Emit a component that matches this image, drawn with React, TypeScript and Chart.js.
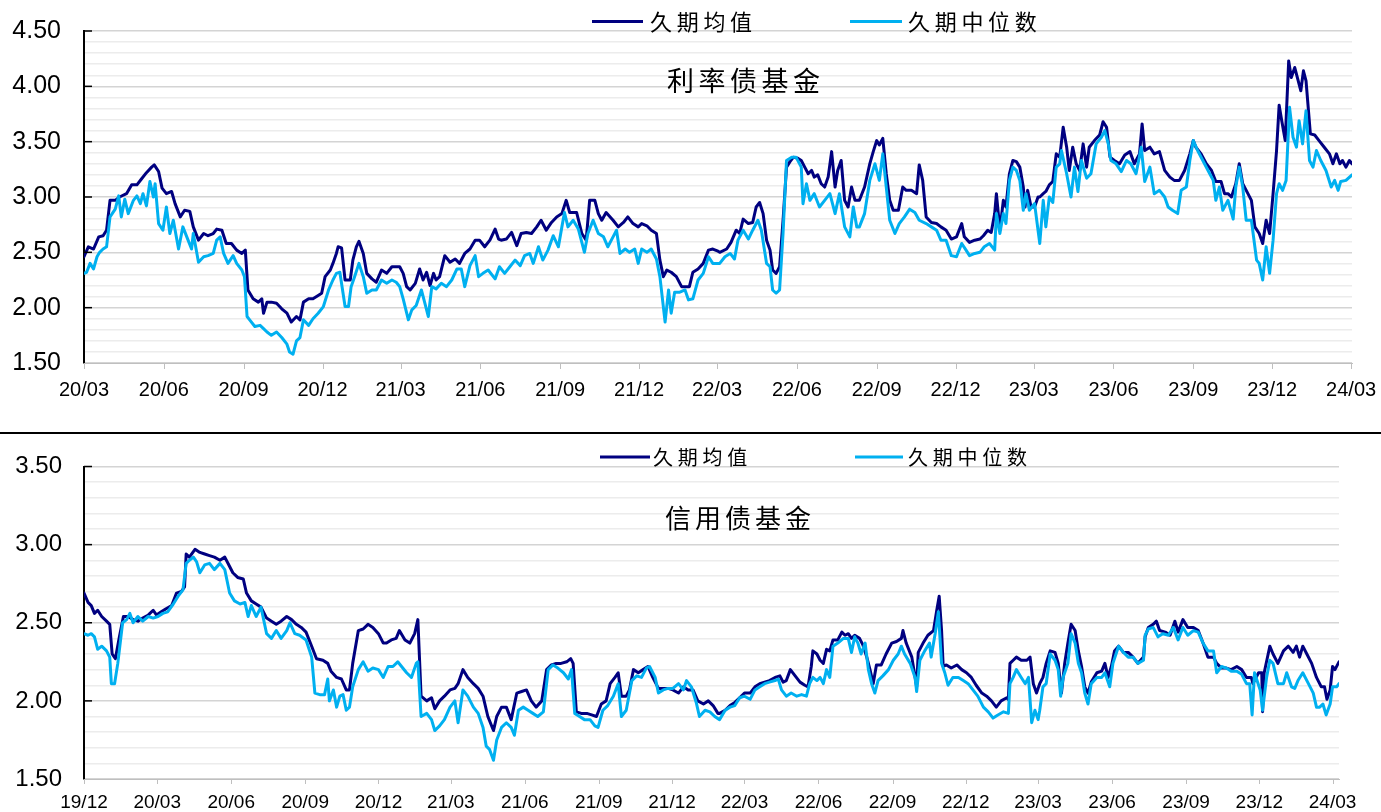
import React, { useEffect, useRef } from "react";
import { Chart, registerables } from "chart.js";

Chart.register(...registerables);

// ---------- DATA ----------
// Top panel (利率债基金): x = days since 2020-03-01
const topTickLabels = ["20/03", "20/06", "20/09", "20/12", "21/03", "21/06", "21/09", "21/12", "22/03", "22/06", "22/09", "22/12", "23/03", "23/06", "23/09", "23/12", "24/03"];
const topMean: number[][] = [
  [0,2.46],[5,2.55],[11,2.53],[17,2.64],[22,2.65],[26,2.70],[30,2.97],[36,2.97],[41,3.00],[49,3.03],[55,3.11],[61,3.11],[66,3.16],[72,3.22],[78,3.27],[81,3.29],[86,3.23],[90,3.08],[95,3.03],[101,3.05],[105,2.94],[111,2.82],[116,2.88],[122,2.87],[126,2.73],[132,2.61],[138,2.67],[143,2.65],[149,2.67],[153,2.71],[159,2.70],[164,2.58],[170,2.58],[176,2.52],[182,2.49],[186,2.52],[189,2.16],[195,2.08],[201,2.05],[205,2.08],[207,1.95],[211,2.05],[216,2.05],[222,2.04],[228,1.99],[234,1.95],[239,1.87],[245,1.92],[249,1.89],[253,2.05],[259,2.08],[264,2.08],[270,2.11],[274,2.13],[278,2.28],[284,2.34],[287,2.40],[291,2.49],[293,2.55],[297,2.54],[301,2.25],[307,2.25],[310,2.43],[314,2.55],[317,2.60],[322,2.49],[326,2.31],[332,2.26],[337,2.23],[343,2.34],[349,2.31],[355,2.37],[360,2.37],
  [364,2.37],[368,2.31],[372,2.19],[376,2.16],[382,2.22],[387,2.35],[391,2.25],[395,2.32],[399,2.20],[403,2.31],[406,2.25],[410,2.28],[416,2.47],[422,2.41],[428,2.44],[433,2.40],[439,2.49],[445,2.53],[451,2.61],[456,2.61],[462,2.55],[468,2.61],[474,2.71],[478,2.62],[481,2.61],[487,2.62],[493,2.68],[499,2.56],[504,2.67],[510,2.68],[516,2.67],[522,2.73],[527,2.79],[533,2.70],[539,2.77],[545,2.82],[551,2.85],[556,2.97],[560,2.86],[568,2.86],[574,2.67],[579,2.61],[583,2.97],[589,2.97],[593,2.85],[597,2.79],[602,2.86],[610,2.79],[616,2.73],[622,2.77],[627,2.82],[633,2.76],[639,2.73],[643,2.76],[649,2.74],[654,2.70],[660,2.67],[664,2.43],[668,2.28],[672,2.34],[677,2.32],[683,2.28],[689,2.19],[695,2.19],[698,2.19],[702,2.32],[708,2.35],[714,2.40],[720,2.52],[725,2.53],[731,2.51],
  [733,2.50],[741,2.53],[746,2.59],[752,2.70],[756,2.67],[760,2.80],[766,2.76],[771,2.77],[775,2.91],[779,2.95],[783,2.85],[787,2.61],[791,2.52],[794,2.34],[798,2.31],[802,2.37],[806,2.79],[810,3.27],[814,3.32],[818,3.36],[823,3.35],[827,3.33],[831,3.27],[835,3.21],[839,3.24],[842,3.18],[846,3.20],[850,3.12],[854,3.09],[858,3.18],[862,3.41],[866,3.09],[869,3.24],[873,3.33],[877,2.97],[881,2.91],[885,3.09],[889,2.97],[894,2.97],[900,3.09],[906,3.30],[910,3.41],[914,3.51],[917,3.47],[921,3.53],[925,3.21],[929,2.97],[933,2.88],[939,2.88],[944,3.09],[948,3.06],[954,3.06],[960,3.03],[963,3.29],[967,3.15],[971,2.82],[977,2.77],[983,2.76],[988,2.73],[994,2.70],[1000,2.62],[1006,2.64],[1012,2.76],[1015,2.64],[1021,2.59],[1027,2.61],[1033,2.62],[1037,2.65],[1042,2.70],[1046,2.68],[1050,2.85],[1052,3.03],[1056,2.70],[1060,2.97],[1063,2.91],[1067,3.21],[1071,3.33],[1075,3.32],[1079,3.27],[1083,3.09],[1085,2.91],[1088,3.06],[1092,2.91],[1096,2.91],[1100,3.00],
  [1102,3.00],[1106,3.03],[1109,3.05],[1113,3.11],[1117,3.14],[1121,3.39],[1125,3.36],[1129,3.63],[1133,3.45],[1136,3.24],[1140,3.45],[1144,3.30],[1148,3.24],[1152,3.48],[1156,3.27],[1159,3.45],[1165,3.51],[1171,3.56],[1175,3.68],[1179,3.63],[1183,3.36],[1188,3.33],[1194,3.30],[1200,3.38],[1206,3.41],[1211,3.30],[1217,3.39],[1220,3.66],[1223,3.42],[1229,3.45],[1234,3.39],[1240,3.41],[1246,3.24],[1252,3.18],[1257,3.15],[1263,3.15],[1269,3.24],[1275,3.39],[1279,3.51],[1282,3.45],[1288,3.39],[1294,3.30],[1300,3.24],[1305,3.14],[1311,3.14],[1315,3.03],[1319,3.03],[1323,3.00],[1328,3.12],[1332,3.30],[1336,3.12],[1342,3.03],[1346,2.97],[1350,2.73],[1355,2.67],[1359,2.58],[1363,2.79],[1367,2.67],[1371,3.03],[1375,3.42],[1378,3.83],[1381,3.69],[1385,3.51],[1389,4.23],[1392,4.08],[1396,4.17],[1400,4.05],[1403,3.96],[1406,4.14],[1409,4.05],[1414,3.57],[1419,3.56],[1424,3.51],[1430,3.45],[1436,3.39],[1440,3.30],[1444,3.39],[1448,3.30],[1451,3.33],[1455,3.27],[1459,3.33],[1462,3.30],
];
const topMedian: number[][] = [
  [0,2.31],[3,2.32],[7,2.40],[11,2.35],[15,2.46],[18,2.50],[22,2.53],[26,2.55],[30,2.82],[36,2.89],[40,3.01],[43,2.82],[47,2.98],[51,2.85],[57,2.97],[61,3.01],[65,2.94],[68,3.03],[72,2.92],[76,3.14],[80,3.00],[82,3.12],[86,2.76],[91,2.70],[95,2.91],[99,2.67],[103,2.79],[109,2.53],[114,2.73],[120,2.61],[124,2.53],[126,2.67],[132,2.41],[138,2.46],[143,2.47],[149,2.49],[153,2.61],[157,2.64],[161,2.49],[166,2.40],[172,2.47],[176,2.40],[182,2.34],[185,2.28],[188,1.92],[191,1.89],[197,1.83],[203,1.84],[207,1.81],[211,1.78],[216,1.75],[222,1.78],[228,1.73],[234,1.67],[237,1.60],[241,1.58],[245,1.70],[249,1.73],[253,1.89],[259,1.84],[264,1.90],[270,1.95],[276,2.01],[282,2.16],[287,2.25],[291,2.31],[295,2.32],[301,2.01],[305,2.01],[308,2.19],[312,2.28],[317,2.40],[322,2.28],[326,2.13],[332,2.16],[337,2.16],[343,2.25],[349,2.22],[355,2.25],[360,2.23],
  [364,2.19],[368,2.08],[374,1.89],[378,1.98],[383,2.02],[389,2.16],[393,2.04],[397,1.92],[401,2.19],[406,2.17],[412,2.22],[418,2.19],[424,2.25],[430,2.35],[435,2.35],[439,2.19],[445,2.38],[451,2.47],[455,2.28],[460,2.31],[466,2.34],[474,2.26],[479,2.37],[485,2.31],[491,2.37],[497,2.43],[503,2.38],[508,2.47],[514,2.49],[518,2.40],[524,2.55],[529,2.43],[535,2.52],[541,2.65],[547,2.55],[551,2.73],[554,2.86],[558,2.73],[564,2.79],[570,2.71],[577,2.50],[581,2.67],[587,2.79],[593,2.67],[599,2.64],[604,2.55],[610,2.64],[614,2.70],[618,2.49],[624,2.53],[629,2.50],[635,2.53],[639,2.40],[643,2.53],[649,2.50],[654,2.53],[660,2.44],[664,2.28],[670,1.87],[674,2.16],[677,1.95],[681,2.14],[687,2.14],[693,2.16],[697,2.07],[702,2.08],[708,2.25],[714,2.31],[720,2.46],[725,2.40],[731,2.40],
  [733,2.40],[739,2.46],[745,2.49],[750,2.44],[754,2.61],[760,2.70],[766,2.62],[771,2.70],[777,2.79],[781,2.70],[787,2.40],[791,2.37],[794,2.16],[798,2.13],[802,2.16],[806,2.67],[810,3.33],[816,3.36],[821,3.36],[827,3.27],[829,2.94],[833,3.12],[837,2.97],[842,3.03],[848,2.91],[854,2.97],[860,3.03],[866,2.85],[871,3.03],[877,2.73],[883,2.64],[887,2.91],[891,2.73],[894,2.73],[900,2.85],[906,3.15],[912,3.30],[917,3.15],[921,3.39],[925,3.09],[929,2.79],[935,2.67],[940,2.76],[946,2.82],[952,2.89],[958,2.86],[963,2.79],[971,2.76],[977,2.73],[983,2.70],[988,2.61],[994,2.61],[1000,2.47],[1006,2.46],[1012,2.58],[1017,2.52],[1021,2.47],[1027,2.49],[1033,2.50],[1038,2.55],[1044,2.58],[1050,2.52],[1052,2.85],[1056,2.67],[1060,2.85],[1063,2.76],[1067,3.15],[1071,3.27],[1075,3.24],[1079,3.15],[1083,2.88],[1086,3.03],[1090,2.88],[1096,2.94],[1100,2.70],
  [1102,2.58],[1106,2.97],[1109,2.73],[1113,3.00],[1117,2.95],[1121,3.27],[1125,3.30],[1127,3.42],[1133,3.21],[1138,3.00],[1142,3.27],[1146,3.05],[1150,3.33],[1156,3.17],[1161,3.21],[1167,3.48],[1173,3.54],[1177,3.60],[1181,3.48],[1184,3.33],[1190,3.30],[1196,3.23],[1202,3.33],[1207,3.30],[1213,3.21],[1219,3.45],[1223,3.14],[1229,3.27],[1234,3.03],[1240,3.06],[1246,3.00],[1250,2.91],[1255,2.88],[1261,2.85],[1265,3.06],[1271,3.09],[1275,3.33],[1279,3.51],[1284,3.42],[1290,3.33],[1296,3.24],[1302,3.15],[1305,2.97],[1309,3.09],[1313,2.88],[1319,2.97],[1325,2.80],[1328,3.09],[1332,3.27],[1336,3.09],[1340,2.79],[1346,2.79],[1352,2.43],[1355,2.40],[1359,2.25],[1363,2.55],[1367,2.31],[1371,2.61],[1375,3.03],[1378,3.12],[1382,3.06],[1386,3.15],[1390,3.81],[1394,3.54],[1398,3.45],[1401,3.69],[1405,3.48],[1409,3.78],[1413,3.33],[1417,3.27],[1421,3.42],[1426,3.33],[1432,3.24],[1438,3.09],[1442,3.15],[1446,3.06],[1449,3.14],[1455,3.15],[1462,3.20],
];

// Bottom panel (信用债基金): x = days since 2019-12-01
const bottomTickLabels = ["19/12", "20/03", "20/06", "20/09", "20/12", "21/03", "21/06", "21/09", "21/12", "22/03", "22/06", "22/09", "22/12", "23/03", "23/06", "23/09", "23/12", "24/03"];
const bottomMean: number[][] = [
  [0,2.69],[5,2.63],[9,2.61],[13,2.56],[17,2.58],[22,2.54],[28,2.51],[32,2.49],[35,2.30],[39,2.27],[44,2.41],[49,2.54],[55,2.54],[61,2.52],[67,2.51],[73,2.53],[80,2.55],[86,2.58],[90,2.55],[96,2.57],[102,2.59],[109,2.61],[115,2.69],[121,2.70],[125,2.73],[127,2.94],[131,2.92],[138,2.97],[144,2.95],[150,2.94],[156,2.93],[162,2.92],[169,2.90],[175,2.92],[181,2.86],[185,2.82],[191,2.79],[198,2.78],[202,2.69],[208,2.64],[214,2.62],[220,2.60],[227,2.53],[233,2.51],[239,2.49],[245,2.51],[252,2.54],[258,2.52],[264,2.49],[270,2.47],[276,2.44],[283,2.35],[289,2.27],[297,2.26],[303,2.24],[307,2.19],[314,2.15],[320,2.14],[326,2.07],[330,2.07],[334,2.24],[341,2.45],[347,2.46],[353,2.49],[359,2.47],[366,2.43],[372,2.37],[376,2.37],[382,2.39],[388,2.40],
  [392,2.45],[399,2.39],[405,2.37],[411,2.43],[415,2.52],[419,2.03],[426,2.00],[432,2.02],[436,1.95],[442,2.00],[448,2.03],[455,2.07],[461,2.08],[465,2.11],[471,2.20],[477,2.15],[484,2.11],[490,2.08],[496,2.03],[502,1.90],[509,1.81],[513,1.90],[519,1.96],[525,1.96],[531,1.88],[538,2.05],[544,2.06],[550,2.07],[556,2.00],[562,1.96],[569,2.00],[575,2.20],[581,2.23],[587,2.24],[593,2.24],[600,2.25],[605,2.27],[608,2.24],[612,1.93],[618,1.92],[625,1.92],[631,1.91],[637,1.90],[643,1.98],[649,2.00],[654,2.11],[660,2.15],[664,2.18],[668,2.03],[674,2.03],[678,2.07],[683,2.20],[689,2.18],[695,2.20],[701,2.22],[707,2.15],[714,2.08],[720,2.08],[726,2.08],[732,2.07],[739,2.05],[745,2.09],[751,2.07],[757,2.07],[763,2.00],[770,1.98],[776,2.00],[782,1.97],[788,1.92],
  [790,1.92],[797,1.94],[803,1.97],[809,1.99],[815,2.02],[821,2.05],[828,2.05],[834,2.09],[840,2.11],[846,2.12],[852,2.13],[859,2.15],[865,2.16],[869,2.12],[873,2.13],[878,2.20],[884,2.16],[890,2.12],[896,2.10],[900,2.09],[904,2.22],[906,2.32],[911,2.30],[915,2.26],[919,2.24],[923,2.33],[927,2.32],[931,2.39],[937,2.39],[942,2.44],[946,2.42],[950,2.43],[954,2.40],[958,2.42],[964,2.40],[968,2.36],[973,2.28],[977,2.20],[981,2.11],[985,2.23],[991,2.23],[997,2.30],[1004,2.37],[1010,2.38],[1016,2.40],[1018,2.45],[1022,2.37],[1029,2.28],[1035,2.09],[1037,2.31],[1043,2.37],[1049,2.42],[1056,2.45],[1060,2.58],[1063,2.67],[1066,2.45],[1068,2.22],[1072,2.23],[1078,2.21],[1085,2.23],[1091,2.20],[1097,2.18],[1103,2.15],[1109,2.10],[1116,2.05],[1122,2.03],[1128,2.00],[1134,1.96],[1140,2.00],[1147,2.02],[1149,2.01],[1151,2.24],[1155,2.26],[1159,2.28],[1165,2.26],[1172,2.26],[1176,2.28],[1180,2.11],[1184,2.05],
  [1188,2.11],[1192,2.15],[1196,2.24],[1201,2.32],[1207,2.31],[1211,2.24],[1215,2.05],[1219,2.24],[1223,2.37],[1227,2.49],[1232,2.45],[1236,2.32],[1240,2.22],[1244,2.09],[1248,2.05],[1252,2.12],[1259,2.18],[1265,2.19],[1269,2.24],[1273,2.15],[1277,2.22],[1281,2.32],[1286,2.35],[1292,2.31],[1298,2.31],[1304,2.28],[1310,2.24],[1317,2.28],[1319,2.41],[1323,2.47],[1329,2.49],[1333,2.51],[1337,2.45],[1344,2.44],[1350,2.42],[1356,2.51],[1360,2.44],[1366,2.52],[1372,2.47],[1379,2.47],[1385,2.45],[1391,2.37],[1397,2.28],[1404,2.28],[1408,2.24],[1414,2.21],[1420,2.21],[1426,2.20],[1433,2.22],[1439,2.20],[1445,2.15],[1451,2.15],[1453,2.11],[1460,2.18],[1464,2.18],[1465,1.93],[1467,2.18],[1474,2.35],[1478,2.30],[1484,2.24],[1491,2.32],[1497,2.35],[1503,2.31],[1507,2.35],[1511,2.28],[1515,2.35],[1520,2.30],[1526,2.24],[1532,2.15],[1538,2.09],[1542,2.09],[1545,2.01],[1549,2.07],[1552,2.22],[1555,2.20],[1560,2.25],
];
const bottomMedian: number[][] = [
  [0,2.43],[5,2.42],[9,2.43],[13,2.41],[17,2.33],[22,2.35],[28,2.32],[32,2.28],[34,2.11],[38,2.11],[42,2.24],[48,2.50],[53,2.52],[57,2.56],[61,2.50],[67,2.54],[73,2.51],[80,2.54],[86,2.53],[92,2.54],[98,2.56],[104,2.57],[111,2.62],[117,2.67],[123,2.71],[127,2.88],[131,2.90],[136,2.92],[140,2.89],[144,2.82],[150,2.87],[156,2.88],[162,2.84],[169,2.88],[175,2.84],[181,2.69],[187,2.64],[194,2.62],[200,2.63],[204,2.54],[208,2.61],[214,2.54],[220,2.60],[227,2.43],[233,2.40],[239,2.45],[245,2.40],[252,2.45],[256,2.50],[262,2.43],[268,2.42],[276,2.39],[283,2.28],[287,2.05],[293,2.04],[299,2.04],[303,2.14],[305,2.00],[310,2.07],[314,1.96],[318,2.03],[322,2.04],[326,1.94],[330,1.96],[334,2.09],[341,2.20],[347,2.25],[353,2.19],[359,2.21],[366,2.20],[372,2.15],[378,2.22],[384,2.22],[390,2.25],
  [401,2.18],[407,2.15],[413,2.24],[415,2.25],[419,1.90],[426,1.92],[432,1.88],[436,1.81],[442,1.84],[448,1.88],[455,1.96],[461,2.00],[465,1.86],[471,2.07],[477,2.03],[484,1.96],[490,1.92],[496,1.83],[500,1.71],[504,1.69],[509,1.62],[513,1.75],[519,1.83],[525,1.86],[531,1.83],[535,1.78],[540,1.94],[546,1.96],[552,1.94],[558,1.92],[564,1.90],[571,1.93],[577,2.20],[583,2.23],[589,2.21],[596,2.18],[602,2.14],[606,2.20],[610,1.92],[616,1.90],[622,1.88],[629,1.88],[635,1.84],[639,1.83],[645,1.94],[651,1.97],[658,2.03],[664,2.11],[668,1.90],[674,1.94],[681,2.13],[687,2.16],[693,2.15],[699,2.21],[703,2.22],[710,2.15],[714,2.05],[720,2.07],[726,2.08],[732,2.08],[739,2.11],[745,2.07],[749,2.13],[755,2.09],[761,1.99],[765,1.90],[772,1.94],[778,1.93],[784,1.90],
  [790,1.88],[797,1.94],[803,1.96],[809,1.97],[815,2.02],[821,2.03],[828,2.01],[834,2.07],[840,2.09],[846,2.11],[852,2.12],[859,2.13],[863,2.14],[867,2.07],[873,2.03],[879,2.05],[886,2.03],[892,2.04],[898,2.03],[902,2.11],[906,2.15],[911,2.13],[915,2.15],[919,2.11],[923,2.20],[927,2.15],[931,2.35],[937,2.37],[944,2.40],[950,2.40],[954,2.31],[958,2.41],[962,2.37],[966,2.30],[971,2.37],[975,2.20],[979,2.11],[983,2.05],[987,2.13],[993,2.16],[1000,2.20],[1006,2.26],[1012,2.30],[1016,2.35],[1020,2.30],[1027,2.24],[1033,2.15],[1035,2.06],[1039,2.26],[1045,2.32],[1051,2.37],[1053,2.28],[1058,2.43],[1062,2.57],[1066,2.24],[1070,2.18],[1074,2.10],[1080,2.15],[1087,2.15],[1093,2.13],[1099,2.11],[1105,2.07],[1111,2.03],[1118,1.96],[1124,1.93],[1130,1.89],[1136,1.91],[1143,1.93],[1149,1.92],[1151,2.11],[1155,2.15],[1159,2.20],[1165,2.15],[1170,2.11],[1174,2.15],[1178,1.86],[1182,1.94],[1186,1.88],
  [1188,1.94],[1192,2.09],[1196,2.11],[1201,2.30],[1207,2.26],[1211,2.20],[1214,2.03],[1217,2.15],[1223,2.24],[1227,2.43],[1232,2.37],[1236,2.24],[1240,2.18],[1244,2.05],[1248,1.98],[1252,2.11],[1259,2.15],[1265,2.15],[1269,2.18],[1275,2.09],[1279,2.24],[1286,2.35],[1292,2.31],[1298,2.28],[1304,2.28],[1310,2.24],[1317,2.26],[1319,2.42],[1323,2.46],[1329,2.47],[1335,2.41],[1341,2.43],[1348,2.42],[1354,2.47],[1360,2.39],[1366,2.47],[1372,2.42],[1379,2.45],[1385,2.44],[1391,2.37],[1397,2.32],[1404,2.32],[1408,2.18],[1414,2.22],[1420,2.21],[1426,2.19],[1433,2.19],[1439,2.17],[1445,2.11],[1449,2.11],[1452,1.91],[1455,2.18],[1462,2.07],[1465,1.94],[1470,2.15],[1474,2.26],[1478,2.24],[1484,2.11],[1491,2.11],[1495,2.18],[1501,2.09],[1505,2.08],[1509,2.13],[1515,2.18],[1522,2.11],[1528,2.05],[1532,1.96],[1536,1.96],[1540,1.98],[1544,1.91],[1549,1.98],[1552,2.09],[1557,2.09],[1560,2.11],
];

const seriesNames = ["久期均值", "久期中位数"];
const topTitle = "利率债基金";
const bottomTitle = "信用债基金";

// ---------- STYLE ----------
const MEAN_COLOR = "#000080";
const MEDIAN_COLOR = "#00B0F0";
const DAY_MS = 86400000;
const CJK_FONT = '"Noto Sans CJK SC", "Noto Sans CJK JP", sans-serif';
const NUM_FONT = '"Liberation Sans", Arial, sans-serif';

function labelToDay(label: string, startMs: number) {
  const [yy, mm] = label.split("/").map(Number);
  return Math.round((Date.UTC(2000 + yy, mm - 1, 1) - startMs) / DAY_MS);
}

const isMajor = (v: number) => Math.abs(v * 2 - Math.round(v * 2)) < 1e-6;

type PanelProps = {
  top: number;
  height: number;
  startMs: number;
  tickLabels: string[];
  mean: number[][];
  median: number[][];
  title: string;
  maxDay: number;
  yMin: number;
  yMax: number;
  padTop: number;
  padRight: number;
  xHeight: number;
  xTickPad: number;
  xTickLen: number;
  xFont: number;
  yFont: number;
  yTickPad: number;
  legendY: number;
  legendFont: number;
  legendPitch: number;
  legendItems: { x1: number; x2: number; tx: number }[];
  titleX: number;
  titleY: number;
  titleFont: number;
  titlePitch: number;
};

function drawSpaced(ctx: CanvasRenderingContext2D, text: string, x: number, y: number, pitch: number) {
  Array.from(text).forEach((ch, i) => ctx.fillText(ch, x + i * pitch, y));
}

function Panel(p: PanelProps) {
  const ref = useRef<HTMLCanvasElement | null>(null);
  useEffect(() => {
    if (!ref.current) return;
    const tickDays = p.tickLabels.map((l) => labelToDay(l, p.startMs));
    const yTicks: number[] = [];
    for (let i = 0; i <= Math.round((p.yMax - p.yMin) * 10); i++) {
      yTicks.push(Math.round((p.yMin + i * 0.1) * 10) / 10);
    }
    const textPlugin = {
      id: "panelText",
      afterDraw(chart: any) {
        const ctx = chart.ctx as CanvasRenderingContext2D;
        const ys = chart.scales.y;
        const xs = chart.scales.x;
        const area = chart.chartArea;
        ctx.save();
        // x-axis tick marks (grey, below the axis)
        ctx.strokeStyle = "#bfbfbf";
        ctx.lineWidth = 1;
        tickDays.forEach((d) => {
          const x = Math.round(xs.getPixelForValue(d)) + 0.5;
          ctx.beginPath();
          ctx.moveTo(x, area.bottom);
          ctx.lineTo(x, area.bottom + p.xTickLen);
          ctx.stroke();
        });
        // y-axis major tick marks (black, inside)
        ctx.strokeStyle = "#000";
        ctx.lineWidth = 1.5;
        yTicks.filter((v) => isMajor(v) && v > p.yMin + 1e-6).forEach((v) => {
          const y = ys.getPixelForValue(v);
          ctx.beginPath();
          ctx.moveTo(area.left, y);
          ctx.lineTo(area.left + 8, y);
          ctx.stroke();
        });
        // legend
        const colors = [MEAN_COLOR, MEDIAN_COLOR];
        p.legendItems.forEach((it, i) => {
          ctx.strokeStyle = colors[i];
          ctx.lineWidth = 3;
          ctx.beginPath();
          ctx.moveTo(it.x1, p.legendY);
          ctx.lineTo(it.x2, p.legendY);
          ctx.stroke();
          ctx.fillStyle = "#000";
          ctx.font = `${p.legendFont}px ${CJK_FONT}`;
          ctx.textBaseline = "middle";
          ctx.textAlign = "left";
          drawSpaced(ctx, seriesNames[i], it.tx, p.legendY, p.legendPitch);
        });
        // panel title
        ctx.fillStyle = "#000";
        ctx.font = `${p.titleFont}px ${CJK_FONT}`;
        ctx.textBaseline = "middle";
        ctx.textAlign = "left";
        drawSpaced(ctx, p.title, p.titleX, p.titleY, p.titlePitch);
        ctx.restore();
      },
    };
    const common = {
      borderWidth: 3,
      pointRadius: 0,
      pointHoverRadius: 0,
      tension: 0,
      borderJoinStyle: "round" as const,
      borderCapStyle: "round" as const,
      fill: false,
    };
    const chart = new Chart(ref.current, {
      type: "line",
      data: {
        datasets: [
          {
            ...common,
            label: seriesNames[1],
            data: p.median.map(([x, y]) => ({ x, y })),
            borderColor: MEDIAN_COLOR,
            backgroundColor: MEDIAN_COLOR,
            order: 0,
          },
          {
            ...common,
            label: seriesNames[0],
            data: p.mean.map(([x, y]) => ({ x, y })),
            borderColor: MEAN_COLOR,
            backgroundColor: MEAN_COLOR,
            order: 1,
          },
        ],
      },
      options: {
        animation: false,
        responsive: false,
        maintainAspectRatio: false,
        events: [],
        layout: { padding: { left: 0, right: p.padRight, top: p.padTop, bottom: 0 } },
        plugins: { legend: { display: false }, tooltip: { enabled: false }, title: { display: false } },
        scales: {
          x: {
            type: "linear",
            min: 0,
            max: p.maxDay,
            afterBuildTicks: (s: any) => {
              s.ticks = tickDays.map((v) => ({ value: v }));
            },
            afterFit: (s: any) => {
              s.height = p.xHeight;
            },
            ticks: {
              autoSkip: false,
              maxRotation: 0,
              minRotation: 0,
              padding: 0,
              color: "#000",
              font: { family: NUM_FONT, size: p.xFont },
              callback: (v: any) => {
                const i = tickDays.indexOf(Number(v));
                return i >= 0 ? p.tickLabels[i] : "";
              },
            },
            grid: {
              drawOnChartArea: false,
              drawTicks: true,
              tickLength: p.xTickLen + p.xTickPad,
              tickColor: "rgba(0,0,0,0)",
              color: "rgba(0,0,0,0)",
            },
            border: { display: true, color: "#bfbfbf", width: 1 },
          },
          y: {
            type: "linear",
            min: p.yMin,
            max: p.yMax,
            afterBuildTicks: (s: any) => {
              s.ticks = yTicks.map((v) => ({ value: v }));
            },
            afterFit: (s: any) => {
              s.width = 84;
            },
            ticks: {
              autoSkip: false,
              padding: 0,
              color: "#000",
              font: { family: NUM_FONT, size: p.yFont },
              callback: (v: any) => (isMajor(Number(v)) ? Number(v).toFixed(2) : ""),
            },
            grid: {
              drawTicks: true,
              tickLength: p.yTickPad,
              tickColor: "rgba(0,0,0,0)",
              color: (c: any) => (isMajor(c.tick.value) ? "#d4d4d4" : "#ececec"),
              lineWidth: 1.5,
            },
            border: { display: true, color: "#000", width: 2 },
          },
        },
      },
      plugins: [textPlugin],
    } as any);
    return () => chart.destroy();
  }, []);
  return (
    <canvas
      ref={ref}
      width={1381}
      height={p.height}
      style={{ position: "absolute", left: 0, top: p.top, width: 1381, height: p.height }}
    />
  );
}

export default function App() {
  return (
    <div style={{ position: "fixed", left: 0, top: 0, width: 1381, height: 812, background: "#fff", overflow: "hidden" }}>
      <Panel
        top={0}
        height={410}
        startMs={Date.UTC(2020, 2, 1)}
        tickLabels={topTickLabels}
        mean={topMean}
        median={topMedian}
        title={topTitle}
        maxDay={1462}
        yMin={1.5}
        yMax={4.5}
        padTop={31}
        padRight={29}
        xHeight={47}
        xTickPad={9}
        xTickLen={6}
        xFont={20}
        yFont={25}
        yTickPad={23}
        legendY={21.5}
        legendFont={22}
        legendPitch={26.7}
        legendItems={[
          { x1: 592, x2: 643, tx: 650 },
          { x1: 850, x2: 902, tx: 908 },
        ]}
        titleX={667}
        titleY={80.5}
        titleFont={27}
        titlePitch={31.5}
      />
      <div style={{ position: "absolute", left: 0, top: 432, width: 1381, height: 2, background: "#000" }} />
      <Panel
        top={435}
        height={377}
        startMs={Date.UTC(2019, 11, 1)}
        tickLabels={bottomTickLabels}
        mean={bottomMean}
        median={bottomMedian}
        title={bottomTitle}
        maxDay={1560}
        yMin={1.5}
        yMax={3.5}
        padTop={31.5}
        padRight={42}
        xHeight={33}
        xTickPad={7}
        xTickLen={5}
        xFont={19}
        yFont={24}
        yTickPad={22}
        legendY={22}
        legendFont={20}
        legendPitch={24.75}
        legendItems={[
          { x1: 600, x2: 650, tx: 653 },
          { x1: 855, x2: 903, tx: 908 },
        ]}
        titleX={665}
        titleY={83}
        titleFont={26}
        titlePitch={30}
      />
    </div>
  );
}
